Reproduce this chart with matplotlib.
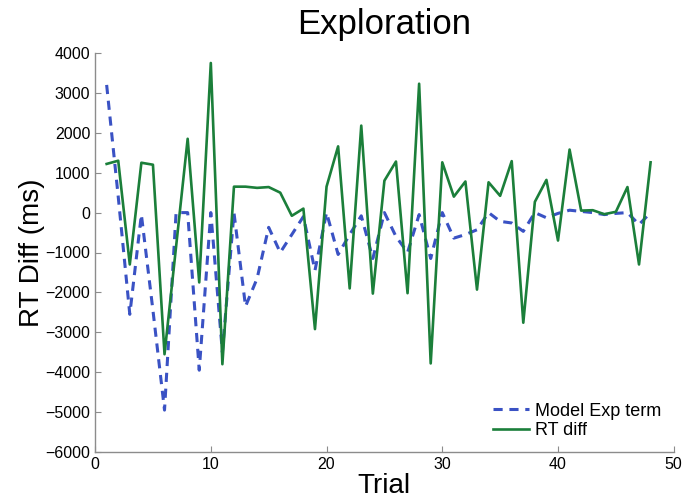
import matplotlib
matplotlib.use('Agg')
import matplotlib.pyplot as plt

plt.rcParams['font.family'] = ['Liberation Sans', 'DejaVu Sans']

trials = list(range(1, 49))

# dashed blue series
model_exp = [3200, 400, -2550, -50, -2450, -4950, 0, 0, -3950, 0,
             -3500, 0, -2350, -1650, -370, -1000, -550, -100, -1450, 0,
             -1050, -550, -80, -1150, 0, -600, -1000, -50, -1150, 0,
             -640, -550, -430, 0, -220, -260, -470, 0, -130, -20,
             60, 30, 0, -50, -20, 0, -300, 0]

# solid green series
rt_diff = [1220, 1300, -1300, 1250, 1200, -3550, -850, 1850, -1750, 3750,
           -3800, 650, 650, 620, 640, 500, -80, 100, -2920, 650,
           1660, -1900, 2180, -2030, 800, 1280, -2020, 3230, -3780, 1260,
           400, 780, -1930, 760, 420, 1290, -2760, 270, 820, -700,
           1580, 50, 60, -40, 20, 640, -1300, 1260]

fig = plt.figure(figsize=(6.84, 5.0), dpi=100)
ax = fig.add_axes([0.139, 0.096, 0.846, 0.798])

ax.plot(trials, model_exp, color='#3a52c4', linestyle='--', linewidth=2.2,
        dashes=(3, 2.2), label='Model Exp term')
ax.plot(trials, rt_diff, color='#1b7f3a', linewidth=1.9, label='RT diff')

ax.set_xlim(0, 50)
ax.set_ylim(-6000, 4000)
ax.set_xticks(range(0, 51, 10))
ax.set_yticks(range(-6000, 4001, 1000))

for side in ('top', 'right'):
    ax.spines[side].set_visible(False)
for side in ('left', 'bottom'):
    ax.spines[side].set_color('#8c8c8c')
    ax.spines[side].set_linewidth(1.0)
ax.tick_params(direction='in', length=4, color='#8c8c8c', labelsize=11.5,
               labelcolor='black')

ax.set_title('Exploration', fontsize=25, pad=14)
ax.set_xlabel('Trial', fontsize=20, labelpad=1)
ax.set_ylabel('RT Diff (ms)', fontsize=20, labelpad=0)

ax.legend(loc='lower right', frameon=False, fontsize=13, handlelength=2.0,
          handletextpad=0.3, labelspacing=0.15, borderaxespad=0.3,
          bbox_to_anchor=(1.0, 0.0))

fig.savefig('out.png', dpi=100)
